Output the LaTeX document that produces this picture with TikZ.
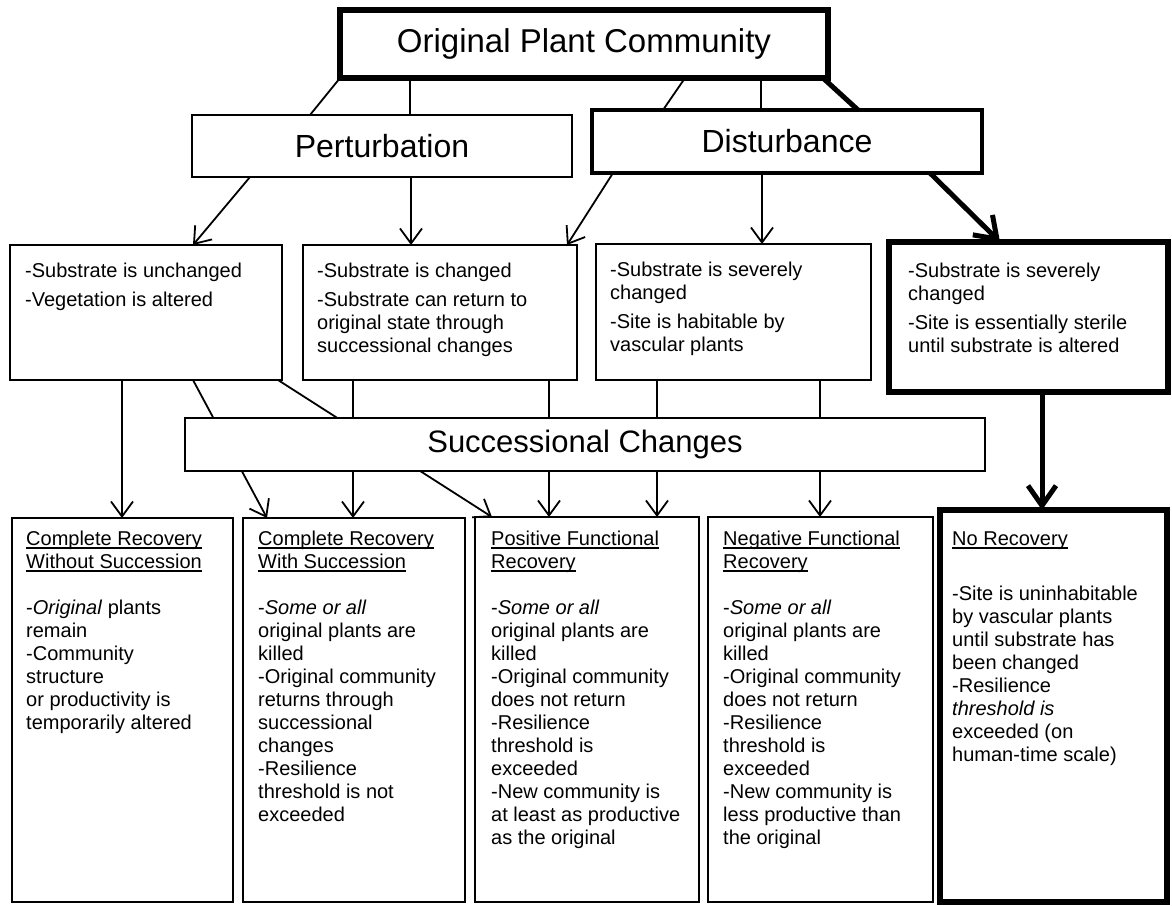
\documentclass[tikz,border=0pt]{standalone}
\usepackage{fontspec}
\setmainfont{Liberation Sans}
\usetikzlibrary{arrows.meta}
\newcommand{\ulbox}[1]{\setbox0\hbox{#1}\rlap{\rule[-3.6pt]{\wd0}{1.4pt}}\box0}
\newcommand{\txtblock}[1]{\begin{tabular}[t]{@{}l@{}}#1\end{tabular}}
\begin{document}
\begin{tikzpicture}[x=1pt,y=-1pt,
  box/.style={draw, line width=2pt, fill=white, inner sep=0pt, outer sep=0pt},
  thickbox/.style={box, line width=5.5pt},
  big/.style={font=\fontsize{32}{38}\selectfont},
  body/.style={anchor=base west, inner sep=0pt, font=\fontsize{20}{23}\selectfont},
  conn/.style={line width=1.8pt},
  arr/.style={conn, -{Straight Barb[length=15pt,width=22pt]}},
  thickarr/.style={line width=5pt, -{Straight Barb[length=20pt,width=28pt]}}
]
\useasboundingbox[fill=white] (0,0) rectangle (1172,905);

% boxes
\node[thickbox, minimum width=488pt, minimum height=68pt, font=\fontsize{33}{38}\selectfont] (top) at (584,44) {Original Plant Community};
\node[box, big, minimum width=380pt, minimum height=62pt] (pert) at (382,146) {Perturbation};
\node[thickbox, big, line width=4.5pt, minimum width=390pt, minimum height=63pt] (dist) at (787,141.5) {Disturbance};

\node[box, minimum width=272pt, minimum height=135pt] (A) at (146,312.5) {};
\node[box, minimum width=274pt, minimum height=135pt] (B) at (440,312.5) {};
\node[box, minimum width=275pt, minimum height=136pt] (C) at (733.5,312) {};
\node[thickbox, minimum width=279pt, minimum height=150pt] (D) at (1028.5,317) {};

\node[box, minimum width=221pt, minimum height=384pt] (R1) at (122.5,710) {};
\node[box, minimum width=222pt, minimum height=384pt] (R2) at (354,710) {};
\node[box, minimum width=224pt, minimum height=385pt] (R3) at (587,709.5) {};
\node[box, minimum width=225pt, minimum height=385pt] (R4) at (820.5,709.5) {};
\node[thickbox, minimum width=227pt, minimum height=392pt] (R5) at (1053.5,706) {};

% connectors
\draw[conn] (top.south west) -- ([xshift=118pt]pert.north west);
\draw[conn] ([xshift=70pt]top.south west) -- ([xshift=218pt]pert.north west);
\draw[conn] ([xshift=345pt]top.south west) -- ([xshift=71pt]dist.north west);
\draw[conn] ([xshift=421pt]top.south west) -- ([xshift=169pt]dist.north west);
\draw[line width=5pt] ([xshift=-5pt]top.south east) -- ([xshift=266pt]dist.north west);

\draw[arr] ([xshift=58pt]pert.south west) -- ([xshift=183pt]A.north west);
\draw[arr] ([xshift=219pt]pert.south west) -- ([xshift=108pt]B.north west);
\draw[arr] ([xshift=21pt]dist.south west) -- ([xshift=-10pt]B.north east);
\draw[arr] ([xshift=170pt]dist.south west) -- ([xshift=166pt]C.north west);
\draw[thickarr] ([xshift=-52pt]dist.south east) -- ([xshift=111pt]D.north west);

\draw[arr] ([xshift=112pt]A.south west) -- ([xshift=110pt]R1.north west);
\draw[arr] ([xshift=183pt]A.south west) -- ([xshift=24pt]R2.north west);
\draw[arr] ([xshift=-4pt]A.south east) -- ([xshift=17pt]R3.north west);
\draw[arr] ([xshift=50pt]B.south west) -- ([xshift=110pt]R2.north west);
\draw[arr] ([xshift=246pt]B.south west) -- ([xshift=74pt]R3.north west);
\draw[arr] ([xshift=61pt]C.south west) -- ([xshift=-42pt]R3.north east);
\draw[arr] ([xshift=224pt]C.south west) -- ([xshift=112pt]R4.north west);
\draw[thickarr] ([xshift=153pt]D.south west) -- ([xshift=102pt]R5.north west);

% successional changes box on top of the lines passing behind it
\node[box, minimum width=800pt, minimum height=53pt, font=\fontsize{31}{38}\selectfont] (SC) at (585,444.5) {Successional Changes};

% texts of the second row
\node[body] (tA) at (25,277) {\txtblock{-Substrate is unchanged\\[6pt]-Vegetation is altered}};
\node[body] (tB) at (317,277) {\txtblock{-Substrate is changed\\[6pt]-Substrate can return to\\original state through\\successional changes}};
\node[body] (tC) at (610,276) {\txtblock{-Substrate is severely\\changed\\[6pt]-Site is habitable by\\vascular plants}};
\node[body] (tD) at (908,277) {\txtblock{-Substrate is severely\\changed\\[6pt]-Site is essentially sterile\\until substrate is altered}};

% texts of the bottom row
\node[body] (t1) at (26,545) {\txtblock{\ulbox{Complete Recovery}\\\ulbox{Without Succession}\\[23pt]-\textit{Original} plants\\remain\\-Community\\structure\\or productivity is\\temporarily altered}};
\node[body] (t2) at (258,545) {\txtblock{\ulbox{Complete Recovery}\\\ulbox{With Succession}\\[23pt]-\textit{Some or all}\\original plants are\\killed\\-Original community\\returns through\\successional\\changes\\-Resilience\\threshold is not\\exceeded}};
\node[body] (t3) at (491,545) {\txtblock{\ulbox{Positive Functional}\\\ulbox{Recovery}\\[23pt]-\textit{Some or all}\\original plants are\\killed\\-Original community\\does not return\\-Resilience\\threshold is\\exceeded\\-New community is\\at least as productive\\as the original}};
\node[body] (t4) at (723,545) {\txtblock{\ulbox{Negative Functional}\\\ulbox{Recovery}\\[23pt]-\textit{Some or all}\\original plants are\\killed\\-Original community\\does not return\\-Resilience\\threshold is\\exceeded\\-New community is\\less productive than\\the original}};
\node[body] (t5) at (952,545) {\txtblock{\ulbox{No Recovery}\\[32pt]-Site is uninhabitable\\by vascular plants\\until substrate has\\been changed\\-Resilience\\\textit{threshold is}\\exceeded (on\\human-time scale)}};
\end{tikzpicture}
\end{document}
